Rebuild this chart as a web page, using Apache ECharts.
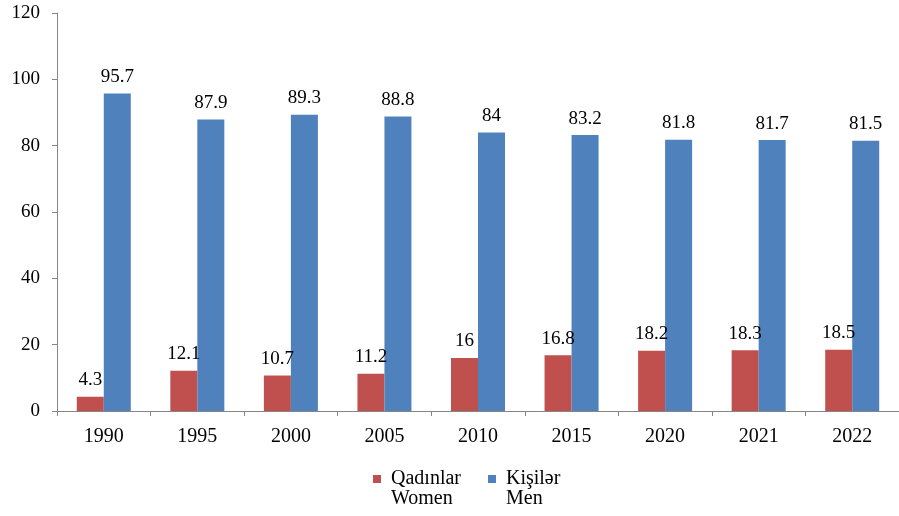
<!DOCTYPE html>
<html>
<head>
<meta charset="utf-8">
<script src="https://cdn.jsdelivr.net/npm/echarts@6/dist/echarts.min.js"></script>
<style>
  html, body { margin: 0; padding: 0; background: #fff; }
  #chart { width: 899px; height: 516px; }
</style>
</head>
<body>
<div id="chart"></div>
<script>
// illik göstəricilər
const years = ['1990', '1995', '2000', '2005', '2010', '2015', '2020', '2021', '2022']
const women = [4.3, 12.1, 10.7, 11.2, 16, 16.8, 18.2, 18.3, 18.5]
const men = [95.7, 87.9, 89.3, 88.8, 84, 83.2, 81.8, 81.7, 81.5]

const serif = '"Liberation Serif", "Times New Roman", serif'
const chart = echarts.init(document.getElementById('chart'))

const labelStyle = {
  show: true,
  position: 'top',
  distance: 7,
  color: '#000',
  fontFamily: serif,
  fontSize: 19
}

const option = {
  animation: false,
  textStyle: { fontFamily: serif },
  grid: {
    left: 57,
    right: -7,
    top: 13,
    bottom: 105
  },
  legend: {
    bottom: 2,
    left: 368,
    itemWidth: 8,
    itemHeight: 8,
    itemGap: 27,
    icon: 'rect',
    formatter: name => '{t|' + name.replace('\n', '}\n{t|') + '}',
    textStyle: {
      padding: [20, 0, 0, 5],
      rich: {
        t: { fontFamily: serif, fontSize: 20, color: '#000', lineHeight: 20 }
      }
    },
    data: ['Qadınlar\nWomen', 'Kişilər\nMen']
  },
  xAxis: {
    type: 'category',
    data: years,
    axisLine: { lineStyle: { color: '#868686' } },
    axisTick: { show: true, length: 5, lineStyle: { color: '#868686' } },
    axisLabel: { color: '#000', fontFamily: serif, fontSize: 20, margin: 16 }
  },
  yAxis: {
    type: 'value',
    min: 0,
    max: 120,
    interval: 20,
    splitLine: { show: false },
    axisLine: { show: true, lineStyle: { color: '#868686' } },
    axisTick: { show: true, length: 5, lineStyle: { color: '#868686' } },
    axisLabel: { color: '#000', fontFamily: serif, fontSize: 19, margin: 17 }
  },
  series: [
    {
      name: 'Qadınlar\nWomen',
      type: 'bar',
      data: women,
      barWidth: 27,
      barGap: '0%',
      itemStyle: { color: '#C0504D' },
      label: labelStyle
    },
    {
      name: 'Kişilər\nMen',
      type: 'bar',
      data: men,
      barWidth: 27,
      itemStyle: { color: '#4F81BD' },
      label: labelStyle
    }
  ]
}

chart.setOption(option)
</script>
</body>
</html>
